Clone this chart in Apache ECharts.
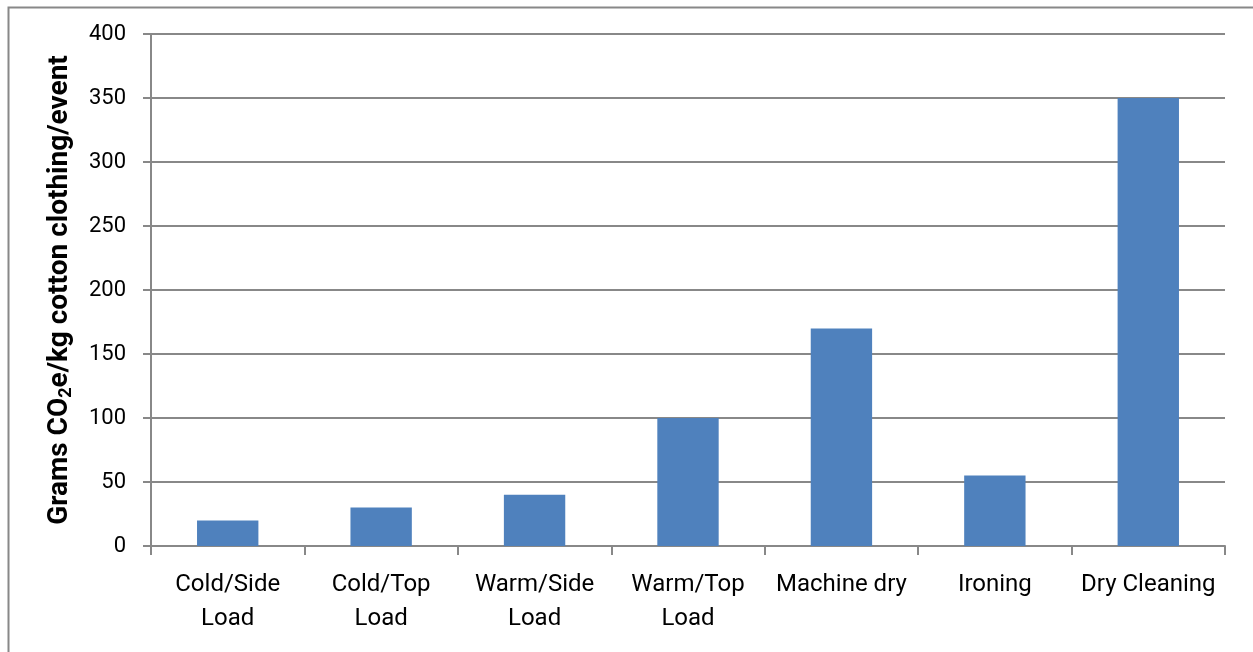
<!DOCTYPE html>
<html>
<head>
<meta charset="utf-8">
<script src="https://cdn.jsdelivr.net/npm/echarts@6/dist/echarts.min.js"></script>
<style>html,body{margin:0;padding:0;background:#fff}#c{width:1253px;height:652px}</style>
</head>
<body>
<div id="c"></div>
<script>
const categories = ['Cold/Side\nLoad', 'Cold/Top\nLoad', 'Warm/Side\nLoad', 'Warm/Top\nLoad', 'Machine dry', 'Ironing', 'Dry Cleaning'];
const values = [20, 30, 40, 100, 170, 55, 350];
const yTicks = { min: 0, max: 400, interval: 50 };
const yTitle = '{a|Grams CO}{s|2}{a|e/kg cotton clothing/event}';

const chart = echarts.init(document.getElementById('c'), null, { renderer: 'canvas' });
const font = 'Roboto, "Liberation Sans", sans-serif';
chart.setOption({
  animation: false,
  backgroundColor: '#fff',
  graphic: [{
    type: 'rect', left: 6, top: 5, z: 100, silent: true,
    shape: { x: 0, y: 0, width: 1300, height: 700 },
    style: { fill: 'none', stroke: '#888', lineWidth: 2 }
  }],
  grid: { left: 151, right: 28, top: 34, bottom: 106, containLabel: false },
  xAxis: {
    type: 'category',
    data: categories,
    axisLine: { lineStyle: { color: '#888', width: 2 } },
    axisTick: { show: true, length: 9, alignWithLabel: false, lineStyle: { color: '#888', width: 2 } },
    axisLabel: { color: '#000', fontSize: 24, fontFamily: font, margin: 22, lineHeight: 34, interval: 0 }
  },
  yAxis: {
    type: 'value',
    min: yTicks.min, max: yTicks.max, interval: yTicks.interval,
    name: yTitle,
    nameLocation: 'middle',
    nameRotate: 90,
    nameGap: 76,
    nameTextStyle: {
      rich: {
        a: { fontSize: 28, fontWeight: 'bold', color: '#000', fontFamily: font },
        s: { fontSize: 18, fontWeight: 'bold', color: '#000', fontFamily: font, padding: [12, 0, 0, 0] }
      }
    },
    axisLine: { show: true, lineStyle: { color: '#888', width: 2 } },
    axisTick: { show: true, length: 8, lineStyle: { color: '#888', width: 2 } },
    axisLabel: { color: '#000', fontSize: 22, fontFamily: font, margin: 25 },
    splitLine: { show: true, lineStyle: { color: '#888', width: 2 } }
  },
  series: [{
    type: 'bar',
    data: values,
    barWidth: '40%',
    itemStyle: { color: '#4F81BD' }
  }]
});
</script>
</body>
</html>
